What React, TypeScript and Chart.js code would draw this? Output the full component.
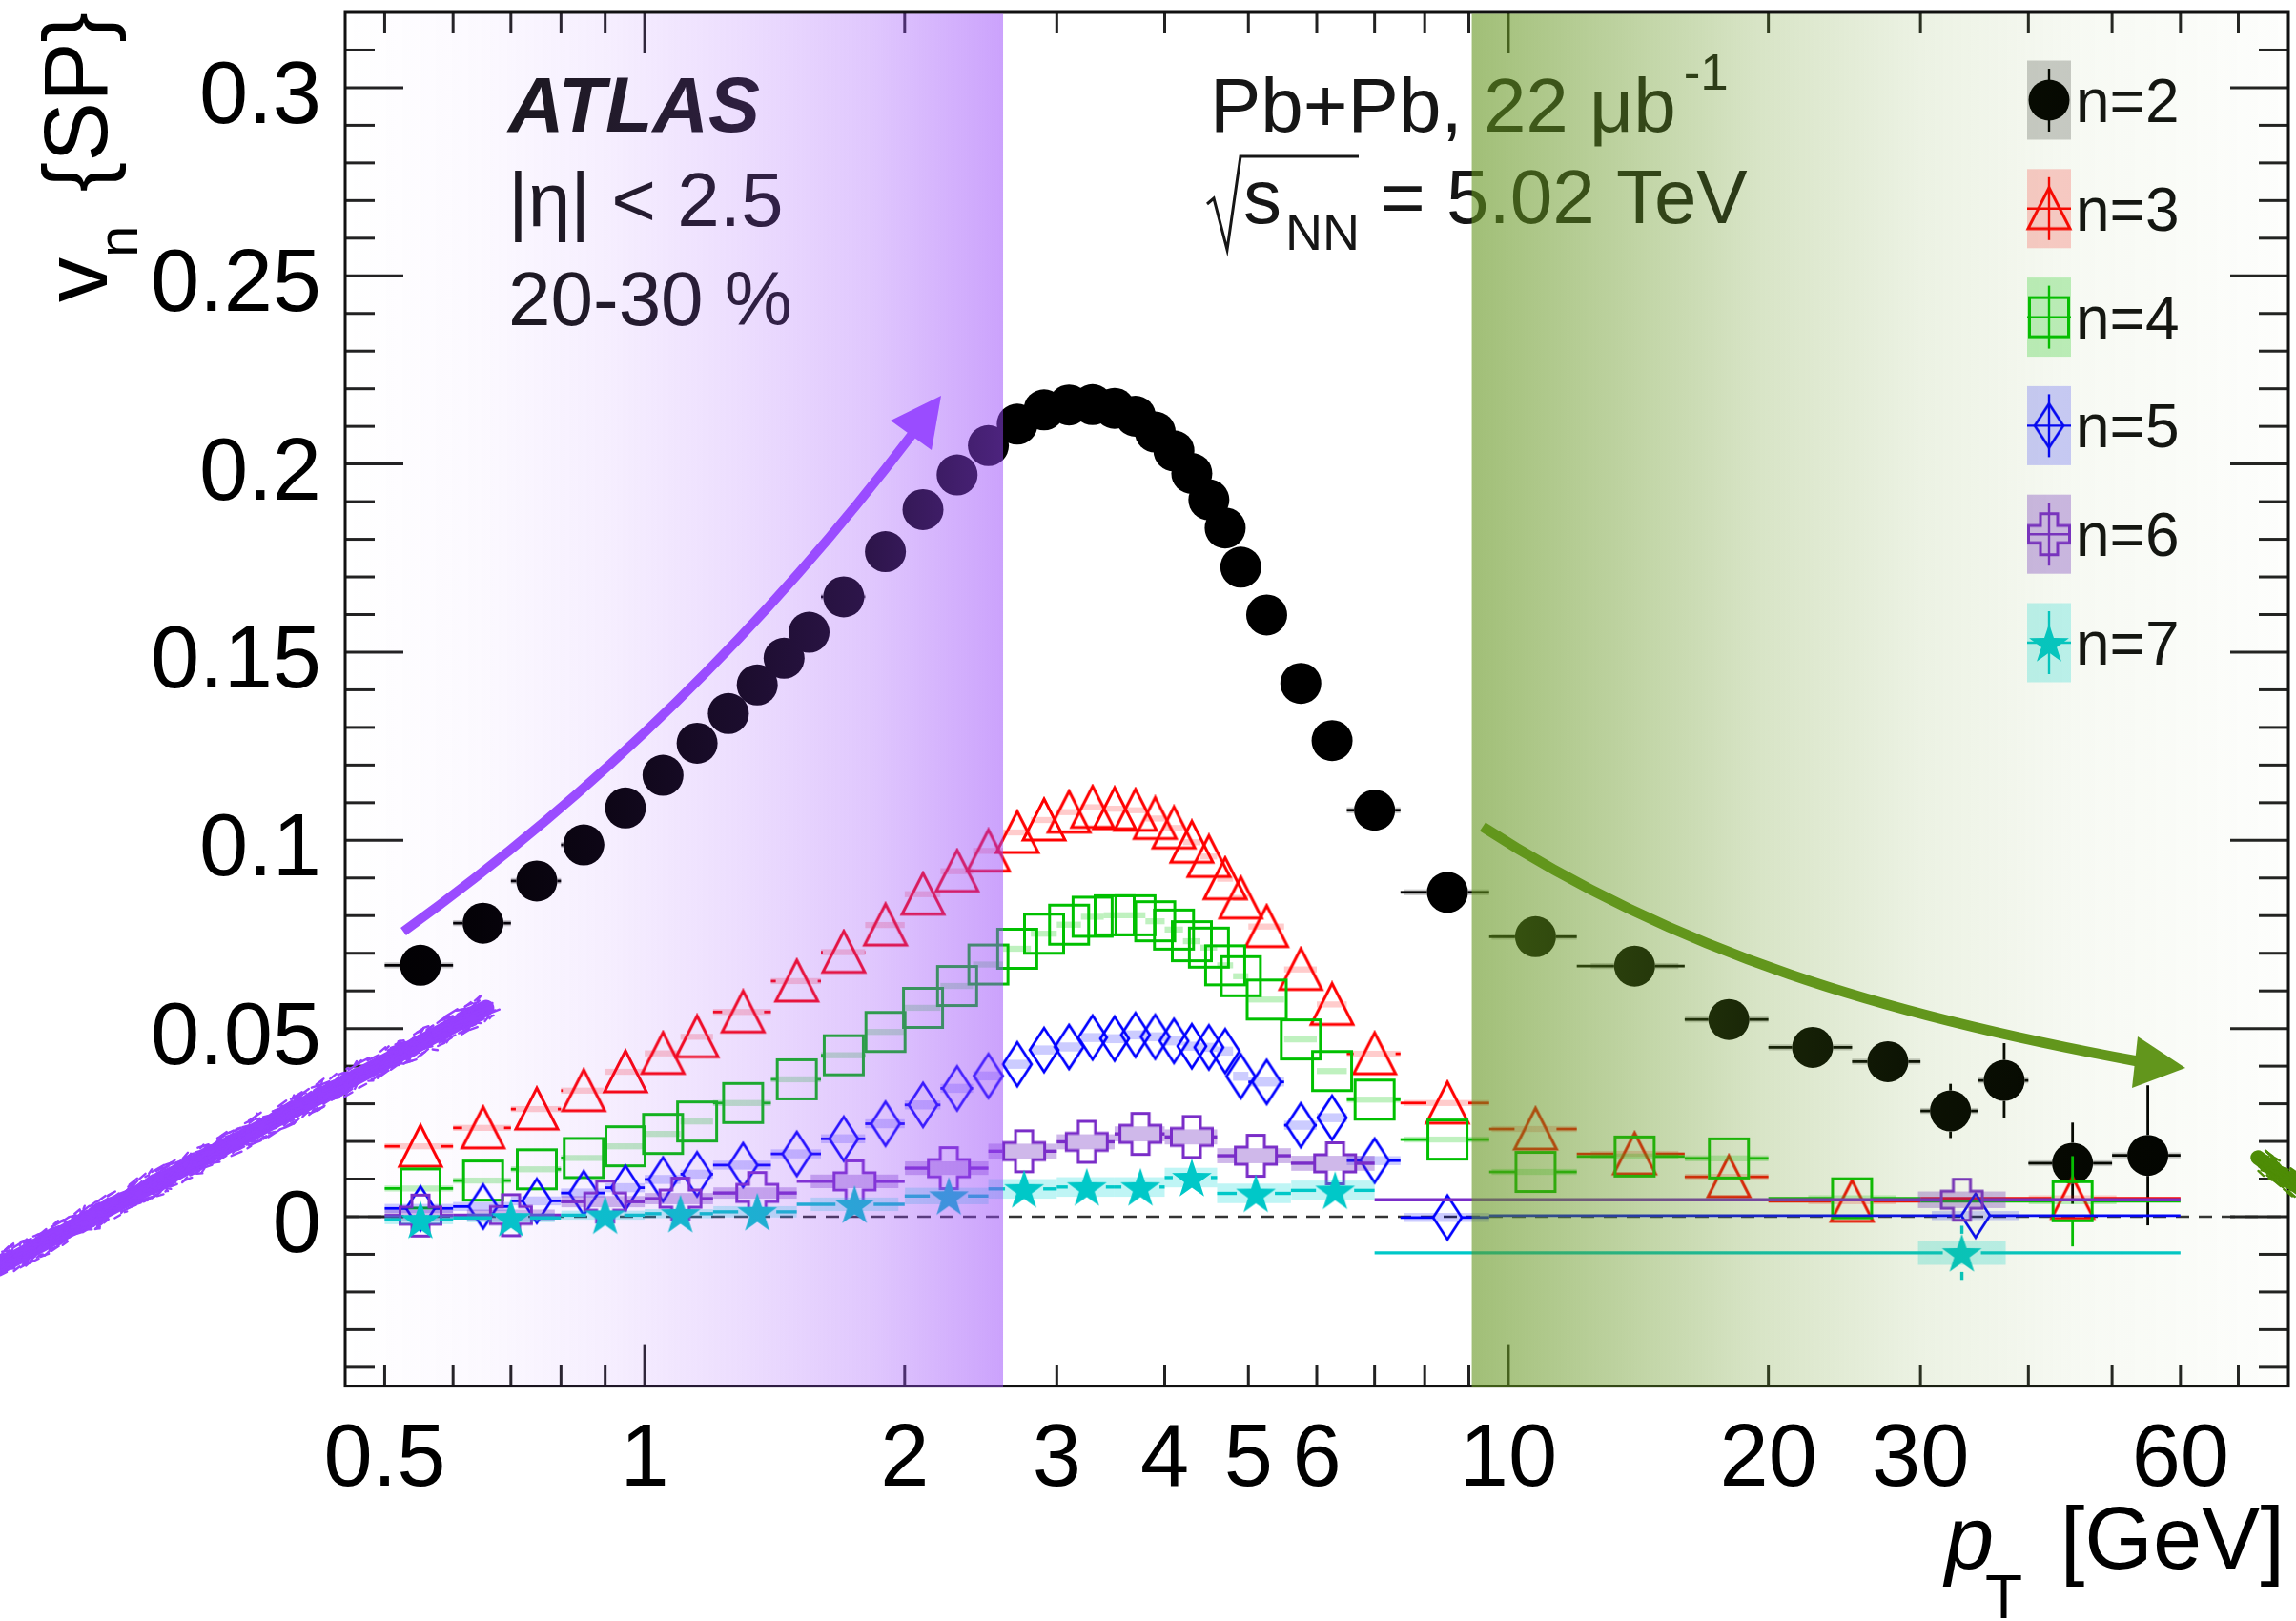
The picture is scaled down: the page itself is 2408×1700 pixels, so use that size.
import { useEffect, useRef } from "react";
import { Chart, registerables } from "chart.js";

Chart.register(...registerables);

const FONT = '"Liberation Sans", Arial, Helvetica, sans-serif';
const W = 2408;
const H = 1700;

// ---------------- pT binning [GeV] ----------------
const edgesN2 = [
  0.5, 0.6, 0.7, 0.8, 0.9, 1.0, 1.1, 1.2, 1.3, 1.4, 1.5, 1.6,
  1.8, 2.0, 2.2, 2.4, 2.6, 2.8, 3.0, 3.2, 3.4, 3.6, 3.8, 4.0, 4.2, 4.4, 4.6, 4.8, 5.0,
  5.5, 6.0, 6.5, 7.5, 9.5, 12, 16, 20, 25, 30, 35, 40, 50, 60,
];
const edgesN34 = [
  0.5, 0.6, 0.7, 0.8, 0.9, 1.0, 1.1, 1.2, 1.4, 1.6,
  1.8, 2.0, 2.2, 2.4, 2.6, 2.8, 3.0, 3.2, 3.4, 3.6, 3.8, 4.0, 4.2, 4.4, 4.6, 4.8, 5.0,
  5.5, 6.0, 6.5, 7.5, 9.5, 12, 16, 20, 30, 60,
];
const edgesN5 = [
  0.5, 0.6, 0.7, 0.8, 0.9, 1.0, 1.1, 1.2, 1.4, 1.6,
  1.8, 2.0, 2.2, 2.4, 2.6, 2.8, 3.0, 3.2, 3.4, 3.6, 3.8, 4.0, 4.2, 4.4, 4.6, 4.8, 5.0,
  5.5, 6.0, 6.5, 7.5, 9.5, 60,
];
const edgesN67 = [0.5, 0.6, 0.8, 1.0, 1.2, 1.5, 2.0, 2.5, 3.0, 3.5, 4.0, 4.6, 5.6, 7.0, 60];

// ---------------- v_n{SP} per bin ----------------
const v2 = [
  0.0668, 0.078, 0.0892, 0.0988, 0.1086, 0.1173, 0.1258, 0.1337, 0.1413, 0.1484, 0.1553,
  0.1647, 0.1767, 0.1879, 0.1971, 0.2049, 0.2106, 0.2144, 0.2157, 0.2158, 0.2148, 0.2127,
  0.2085, 0.2035, 0.1975, 0.1905, 0.183, 0.1726,
  0.1599, 0.1417, 0.1265,
  0.108, 0.0862, 0.0744, 0.0666, 0.0524,
  0.045, 0.0412, 0.0281, 0.0362, 0.0142, 0.0163,
];
const v3 = [
  0.0187, 0.0236, 0.0286, 0.0335, 0.0385, 0.0434, 0.0478,
  0.0544, 0.0626,
  0.0703, 0.0775, 0.0857, 0.0918, 0.0972, 0.1021, 0.1054, 0.1075, 0.1088, 0.1084, 0.108,
  0.1058, 0.1033, 0.0995, 0.0957, 0.0898, 0.0847,
  0.0771, 0.0657, 0.0564,
  0.0433, 0.0302, 0.0233, 0.0167, 0.0106,
  0.0041, 0.0049,
];
const v4 = [
  0.0075, 0.0096, 0.0126, 0.0156, 0.0187, 0.022, 0.0253,
  0.0302, 0.0365,
  0.0429, 0.0491, 0.0555, 0.0613, 0.067, 0.0712, 0.0752, 0.0776, 0.0797, 0.0801, 0.0801,
  0.0785, 0.0763, 0.0732, 0.0715, 0.0668, 0.0639,
  0.0577, 0.0471, 0.0387,
  0.0311, 0.0205, 0.0119, 0.016, 0.0155,
  0.0049, 0.0041,
];
const v5 = [
  0.0022, 0.0027, 0.0042, 0.0063, 0.0077, 0.0099, 0.0113,
  0.0137, 0.0167,
  0.0207, 0.0247, 0.0297, 0.0341, 0.0374, 0.0405, 0.0443, 0.0451, 0.0476, 0.0473, 0.0483,
  0.0478, 0.0467, 0.0453, 0.045, 0.044, 0.0373,
  0.0358, 0.0243, 0.0263,
  0.0149, -0.0002,
  0.0003,
];
const v6 = [0.0003, 0.0004, 0.004, 0.0048, 0.0063, 0.0094, 0.0129, 0.0174, 0.0199, 0.022, 0.0212, 0.0162, 0.0142, 0.0045];
const v7 = [-0.0008, -0.0003, 0.0004, 0.0008, 0.0013, 0.0033, 0.0055, 0.0074, 0.0079, 0.0079, 0.0104, 0.0062, 0.007, -0.0096];

// ---------------- statistical uncertainties ----------------
const v2Stat = [
  0.0002, 0.0002, 0.0002, 0.0002, 0.0002, 0.0002, 0.0002, 0.0002, 0.0002, 0.0002,
  0.0002, 0.0002, 0.0002, 0.0002, 0.0002, 0.0002, 0.0002, 0.0002, 0.0002, 0.0002,
  0.0002, 0.0002, 0.0002, 0.0002, 0.0002, 0.0002, 0.0002, 0.0002,
  0.0003, 0.0004, 0.0005, 0.0006, 0.0008, 0.0012, 0.0016, 0.0025, 0.003, 0.004, 0.0072, 0.0099, 0.0108, 0.0186,
];
const v3Stat = [
  0.0003, 0.0003, 0.0003, 0.0003, 0.0003, 0.0003, 0.0003, 0.0003, 0.0003, 0.0003,
  0.0003, 0.0003, 0.0003, 0.0003, 0.0003, 0.0003, 0.0003, 0.0003, 0.0003, 0.0003,
  0.0003, 0.0003, 0.0003, 0.0003, 0.0003, 0.0003,
  0.0004, 0.0005, 0.0006, 0.0007, 0.001, 0.0015, 0.002, 0.003, 0.004, 0.005,
];
const v4Stat = [
  0.0003, 0.0003, 0.0003, 0.0003, 0.0003, 0.0003, 0.0003, 0.0003, 0.0003, 0.0003,
  0.0003, 0.0003, 0.0003, 0.0003, 0.0003, 0.0003, 0.0003, 0.0003, 0.0003, 0.0003,
  0.0003, 0.0003, 0.0003, 0.0003, 0.0003, 0.0003,
  0.0004, 0.0005, 0.0006, 0.0008, 0.0012, 0.0018, 0.0025, 0.0035, 0.005, 0.012,
];
const v5Stat = [
  0.0004, 0.0004, 0.0004, 0.0004, 0.0004, 0.0004, 0.0004, 0.0004, 0.0004, 0.0004,
  0.0004, 0.0004, 0.0004, 0.0004, 0.0004, 0.0004, 0.0004, 0.0004, 0.0004, 0.0004,
  0.0004, 0.0004, 0.0004, 0.0004, 0.0004, 0.0004,
  0.0005, 0.0006, 0.0008, 0.001, 0.002, 0.004,
];
const v6Stat = [0.0003, 0.0003, 0.0003, 0.0003, 0.0004, 0.0004, 0.0005, 0.0006, 0.0007, 0.0008, 0.0009, 0.001, 0.0012, 0.005];
const v7Stat = [0.0004, 0.0004, 0.0004, 0.0005, 0.0005, 0.0006, 0.0007, 0.0008, 0.0009, 0.001, 0.0012, 0.0014, 0.0016, 0.0072];

// ---------------- systematic uncertainties (box half-heights) ----------------
const v2Sys = [0.0008];
const v3Sys = [0.0008];
const v4Sys = [0.0008];
const v5Sys = [0.0012];
const v6Sys = [0.0015, 0.0015, 0.0015, 0.0015, 0.0015, 0.0018, 0.0018, 0.002, 0.002, 0.002, 0.002, 0.002, 0.002, 0.0022];
const v7Sys = [0.0012, 0.0012, 0.0012, 0.0012, 0.0015, 0.0018, 0.0022, 0.0026, 0.0026, 0.0026, 0.0026, 0.0026, 0.0026, 0.0032];

// ---------------- axes ----------------
const xTicks = [0.5, 0.6, 0.7, 0.8, 0.9, 1, 2, 3, 4, 5, 6, 7, 8, 9, 10, 20, 30, 40, 50, 60, 70];
const xMajorTicks = [1, 10];
const xTickLabels = [0.5, 1, 2, 3, 4, 5, 6, 10, 20, 30, 60];
const yTickLabels = [0, 0.05, 0.1, 0.15, 0.2, 0.25, 0.3];
const legendLabels = ["n=2", "n=3", "n=4", "n=5", "n=6", "n=7"];

// shaded pT regions (soft / hard)
const softBand = [0.45, 2.6];
const hardBand = [9.07, 80];

const centres = (e: number[]) => e.slice(0, -1).map((lo, i) => (lo + e[i + 1]) / 2);
const hash = (k: number) => {
  const s = Math.sin(k * 127.1 + 311.7) * 43758.5453;
  return s - Math.floor(s);
};

function mk(w: number, h: number, draw: (g: CanvasRenderingContext2D) => void) {
  const c = document.createElement("canvas");
  c.width = w;
  c.height = h;
  draw(c.getContext("2d") as CanvasRenderingContext2D);
  return c;
}

function buildMarkers(colors: string[]) {
  const tri = mk(52, 50, (g) => {
    g.strokeStyle = colors[1];
    g.lineWidth = 3;
    g.beginPath();
    g.moveTo(26, 3);
    g.lineTo(48, 46);
    g.lineTo(4, 46);
    g.closePath();
    g.stroke();
  });
  const sq = mk(48, 48, (g) => {
    g.strokeStyle = colors[2];
    g.lineWidth = 3;
    g.strokeRect(3.5, 3.5, 41, 41);
  });
  const dia = mk(36, 52, (g) => {
    g.strokeStyle = colors[3];
    g.lineWidth = 2.7;
    g.beginPath();
    g.moveTo(18, 3);
    g.lineTo(33, 26);
    g.lineTo(18, 49);
    g.lineTo(3, 26);
    g.closePath();
    g.stroke();
  });
  const cross = mk(50, 50, (g) => {
    g.strokeStyle = colors[4];
    g.lineWidth = 3;
    const c = 25, o = 21.5, a = 9;
    const pts = [
      [c - a, c - o], [c + a, c - o], [c + a, c - a], [c + o, c - a], [c + o, c + a], [c + a, c + a],
      [c + a, c + o], [c - a, c + o], [c - a, c + a], [c - o, c + a], [c - o, c - a], [c - a, c - a],
    ];
    g.beginPath();
    pts.forEach(([px, py], i) => (i ? g.lineTo(px, py) : g.moveTo(px, py)));
    g.closePath();
    g.stroke();
  });
  const star = mk(48, 48, (g) => {
    g.fillStyle = colors[5];
    g.beginPath();
    for (let i = 0; i < 10; i++) {
      const r = i % 2 ? 8.5 : 22;
      const an = -Math.PI / 2 + (i * Math.PI) / 5;
      const px = 24 + r * Math.cos(an);
      const py = 26 + r * Math.sin(an);
      if (i) g.lineTo(px, py);
      else g.moveTo(px, py);
    }
    g.closePath();
    g.fill();
  });
  return [null, tri, sq, dia, cross, star] as (HTMLCanvasElement | null)[];
}

type Run = { t: string; size: number; dx?: number; dy?: number; style?: string };
function drawRuns(ctx: CanvasRenderingContext2D, x: number, y: number, runs: Run[]) {
  let cx = x;
  for (const r of runs) {
    ctx.font = `${r.style ?? ""} ${r.size}px ${FONT}`;
    cx += r.dx ?? 0;
    ctx.fillText(r.t, cx, y + (r.dy ?? 0));
    cx += ctx.measureText(r.t).width;
  }
  return cx;
}

function roughStroke(
  ctx: CanvasRenderingContext2D,
  x0: number, y0: number, x1: number, y1: number,
  width: number, color: string, seed: number,
) {
  const len = Math.hypot(x1 - x0, y1 - y0);
  const ux = (x1 - x0) / len, uy = (y1 - y0) / len;
  const nx = -uy, ny = ux;
  ctx.save();
  ctx.strokeStyle = color;
  ctx.lineCap = "round";
  ctx.lineWidth = width * 0.7;
  ctx.beginPath();
  ctx.moveTo(x0, y0);
  ctx.lineTo(x1, y1);
  ctx.stroke();
  ctx.lineWidth = 2.4;
  const n = Math.floor(len * 1.4);
  for (let i = 0; i < n; i++) {
    const t = i / n;
    const off = (hash(seed + i * 3.1) - 0.5) * width * 1.05;
    const l = 3 + hash(seed + i * 7.7) * 9;
    const px = x0 + ux * len * t + nx * off;
    const py = y0 + uy * len * t + ny * off;
    ctx.beginPath();
    ctx.moveTo(px, py);
    ctx.lineTo(px + ux * l + (hash(seed + i * 1.3) - 0.5) * 5, py + uy * l + (hash(seed + i * 5.9) - 0.5) * 5);
    ctx.stroke();
  }
  ctx.restore();
}

export default function App() {
  const ref = useRef<HTMLCanvasElement>(null);

  useEffect(() => {
    const canvas = ref.current as HTMLCanvasElement;
    const colors = ["#000000", "#ff0000", "#00c000", "#0000ff", "#7a2dc8", "#00c8c8"];
    const fills = [
      "rgba(0,0,0,0.2)",
      "rgba(255,0,0,0.2)",
      "rgba(0,200,0,0.25)",
      "rgba(0,0,255,0.2)",
      "rgba(110,40,190,0.33)",
      "rgba(0,215,215,0.25)",
    ];
    const markers = buildMarkers(colors);

    const series = [
      { edges: edgesN2, v: v2, stat: v2Stat, sys: v2Sys, gx: 21.5, gy: 21.5 },
      { edges: edgesN34, v: v3, stat: v3Stat, sys: v3Sys, gx: 22, gy: 22 },
      { edges: edgesN34, v: v4, stat: v4Stat, sys: v4Sys, gx: 21, gy: 21 },
      { edges: edgesN5, v: v5, stat: v5Stat, sys: v5Sys, gx: 15, gy: 23 },
      { edges: edgesN67, v: v6, stat: v6Stat, sys: v6Sys, gx: 21.5, gy: 21.5 },
      { edges: edgesN67, v: v7, stat: v7Stat, sys: v7Sys, gx: 20, gy: 20 },
    ];

    const datasets = series.map((s, i) => {
      const xs = centres(s.edges);
      return {
        type: "scatter" as const,
        label: legendLabels[i],
        data: xs.map((x, k) => ({ x, y: s.v[k] })),
        order: 6 - i,
        showLine: false,
        pointStyle: i === 0 ? "circle" : (markers[i] as any),
        pointRadius: i === 0 ? 21.5 : 22,
        pointBackgroundColor: colors[i],
        pointBorderColor: colors[i],
        pointBorderWidth: 0,
        clip: false as any,
      };
    });

    const line = (ctx: CanvasRenderingContext2D, x0: number, y0: number, x1: number, y1: number) => {
      ctx.beginPath();
      ctx.moveTo(x0, y0);
      ctx.lineTo(x1, y1);
      ctx.stroke();
    };

    const decor = {
      id: "vnDecor",
      beforeDatasetsDraw(chart: any) {
        const { ctx, chartArea: a, scales } = chart;
        const x = scales.x, y = scales.y;
        ctx.save();
        // dashed zero line
        ctx.strokeStyle = "#333";
        ctx.lineWidth = 2.5;
        ctx.setLineDash([14, 10]);
        const y0 = y.getPixelForValue(0);
        line(ctx, a.left, y0, a.right, y0);
        ctx.setLineDash([]);
        // ticks on all four sides, pointing inwards
        ctx.strokeStyle = "#222";
        ctx.lineWidth = 3;
        for (const t of xTicks) {
          const px = x.getPixelForValue(t);
          const len = xMajorTicks.includes(t) ? 43 : 22;
          line(ctx, px, a.bottom, px, a.bottom - len);
          line(ctx, px, a.top, px, a.top + len);
        }
        for (let k = -4; k <= 31; k++) {
          const py = y.getPixelForValue(k / 100);
          const len = k % 5 === 0 ? 61 : 31;
          line(ctx, a.left, py, a.left + len, py);
          line(ctx, a.right, py, a.right - len, py);
        }
        ctx.strokeStyle = "#111";
        ctx.lineWidth = 3;
        ctx.strokeRect(a.left, a.top, a.right - a.left, a.bottom - a.top);
        ctx.restore();
      },
      beforeDatasetDraw(chart: any, args: any) {
        const i = args.index;
        const s = series[i];
        const { ctx, scales } = chart;
        const x = scales.x, y = scales.y;
        ctx.save();
        const xs = centres(s.edges);
        // systematic boxes
        ctx.fillStyle = fills[i];
        xs.forEach((cx, k) => {
          const sys = s.sys.length > 1 ? s.sys[k] : s.sys[0];
          const pcx = x.getPixelForValue(cx);
          const l = Math.max(x.getPixelForValue(s.edges[k]), pcx - 46);
          const r = Math.min(x.getPixelForValue(s.edges[k + 1]), pcx + 46);
          const t = y.getPixelForValue(s.v[k] + sys);
          const b = y.getPixelForValue(s.v[k] - sys);
          ctx.fillRect(l, t, r - l, b - t);
        });
        // bin-width and statistical error bars, interrupted by the marker
        ctx.strokeStyle = colors[i];
        ctx.lineWidth = i >= 4 ? 3.4 : 2.8;
        xs.forEach((cx, k) => {
          const pcx = x.getPixelForValue(cx);
          const pcy = y.getPixelForValue(s.v[k]);
          const l = x.getPixelForValue(s.edges[k]);
          const r = x.getPixelForValue(s.edges[k + 1]);
          if (pcx - s.gx > l) line(ctx, l, pcy, pcx - s.gx, pcy);
          if (pcx + s.gx < r) line(ctx, pcx + s.gx, pcy, r, pcy);
          const t = y.getPixelForValue(s.v[k] + s.stat[k]);
          const b = y.getPixelForValue(s.v[k] - s.stat[k]);
          if (pcy - s.gy > t) line(ctx, pcx, t, pcx, pcy - s.gy);
          if (pcy + s.gy < b) line(ctx, pcx, pcy + s.gy, pcx, b);
        });
        ctx.restore();
      },
      afterDatasetsDraw(chart: any) {
        const { ctx, chartArea: a, scales } = chart;
        const x = scales.x, y = scales.y;
        ctx.save();
        ctx.fillStyle = "#000";
        ctx.textBaseline = "alphabetic";

        // tick labels
        ctx.font = `92px ${FONT}`;
        ctx.textAlign = "right";
        for (const v of yTickLabels) ctx.fillText(String(v), a.left - 25, y.getPixelForValue(v) + 37);
        ctx.textAlign = "center";
        for (const v of xTickLabels) ctx.fillText(String(v), x.getPixelForValue(v), a.bottom + 104);

        // axis titles
        ctx.textAlign = "left";
        ctx.save();
        ctx.translate(112, 317);
        ctx.rotate(-Math.PI / 2);
        drawRuns(ctx, 0, 0, [{ t: "v", size: 94 }, { t: "n", size: 60, dy: 32 }]);
        ctx.font = `94px ${FONT}`;
        ctx.textAlign = "right";
        ctx.fillText("{SP}", 304, 0);
        ctx.restore();

        ctx.textAlign = "left";
        drawRuns(ctx, 2040, 1645, [{ t: "p", size: 92, style: "italic" }]);
        drawRuns(ctx, 2082, 1697, [{ t: "T", size: 64 }]);
        ctx.font = `92px ${FONT}`;
        ctx.textAlign = "right";
        ctx.fillText("[GeV]", 2396, 1645);
        ctx.textAlign = "left";

        // labels inside the frame
        ctx.fillStyle = "#161616";
        ctx.font = `italic bold 81px ${FONT}`;
        ctx.fillText("ATLAS", 533, 138);
        ctx.font = `80px ${FONT}`;
        ctx.fillText("|\u03b7| < 2.5", 533, 237);
        ctx.fillText("20-30 %", 533, 341);

        drawRuns(ctx, 1269, 138, [
          { t: "Pb+Pb, 22 \u03bcb", size: 80 },
          { t: "-1", size: 53, dx: 8, dy: -44 },
        ]);
        ctx.strokeStyle = "#161616";
        ctx.lineWidth = 3;
        ctx.lineJoin = "miter";
        ctx.beginPath();
        ctx.moveTo(1266, 214);
        ctx.lineTo(1273, 208);
        ctx.lineTo(1287, 262);
        ctx.lineTo(1301, 164);
        ctx.lineTo(1425, 164);
        ctx.stroke();
        const sEnd = drawRuns(ctx, 1304, 234, [{ t: "s", size: 80 }]);
        drawRuns(ctx, sEnd + 4, 262, [{ t: "NN", size: 54 }]);
        drawRuns(ctx, 1448, 234, [{ t: "= 5.02 TeV", size: 80 }]);

        // legend
        series.forEach((_, i) => {
          const ry = 105 + i * 113.8;
          ctx.fillStyle = fills[i];
          ctx.fillRect(2126, ry - 41.5, 46, 83);
          ctx.strokeStyle = colors[i];
          ctx.lineWidth = 2.4;
          line(ctx, 2149, ry - 33, 2149, ry + 33);
          if (i > 0) line(ctx, 2126, ry, 2172, ry);
          const m = markers[i];
          if (m) {
            ctx.drawImage(m, 2149 - m.width / 2, ry - m.height / 2);
          } else {
            ctx.fillStyle = colors[0];
            ctx.beginPath();
            ctx.arc(2149, ry, 21.5, 0, Math.PI * 2);
            ctx.fill();
          }
          ctx.fillStyle = "#111";
          ctx.font = `64px ${FONT}`;
          ctx.fillText(legendLabels[i], 2177, ry + 23);
        });

        // shaded pT regions laid over everything inside the frame
        const top = a.top + 1.5;
        const bot = a.bottom + 1.5;
        const sl = x.getPixelForValue(softBand[0]);
        const sr = x.getPixelForValue(softBand[1]);
        const gs = ctx.createLinearGradient(sl, 0, sr, 0);
        const sAlpha = [[0, 0], [0.2, 0.03], [0.4, 0.09], [0.6, 0.18], [0.8, 0.3], [0.97, 0.47], [1, 0.5]];
        sAlpha.forEach(([p, al]) => gs.addColorStop(p, `rgba(152,70,250,${al})`));
        ctx.fillStyle = gs;
        ctx.fillRect(sl, top, sr - sl, bot - top);

        const hl = x.getPixelForValue(hardBand[0]);
        const hr = x.getPixelForValue(hardBand[1]);
        const gh = ctx.createLinearGradient(hl, 0, hr, 0);
        const hAlpha = [[0, 0.6], [0.15, 0.45], [0.35, 0.25], [0.55, 0.12], [0.75, 0.05], [1, 0.01]];
        hAlpha.forEach(([p, al]) => gh.addColorStop(p, `rgba(98,148,28,${al})`));
        ctx.fillStyle = gh;
        ctx.fillRect(hl, top, hr - hl, bot - top);

        // arrows
        ctx.lineCap = "butt";
        ctx.strokeStyle = "#9a4cff";
        ctx.fillStyle = "#9a4cff";
        ctx.lineWidth = 10;
        ctx.beginPath();
        ctx.moveTo(423, 977);
        ctx.quadraticCurveTo(727, 758, 957, 455);
        ctx.stroke();
        ctx.beginPath();
        ctx.moveTo(987, 415);
        ctx.lineTo(934, 441);
        ctx.lineTo(977, 472);
        ctx.closePath();
        ctx.fill();

        ctx.strokeStyle = "#62961c";
        ctx.fillStyle = "#62961c";
        ctx.lineWidth = 11;
        ctx.beginPath();
        ctx.moveTo(1555, 867);
        ctx.bezierCurveTo(1760, 1000, 1980, 1065, 2242, 1113);
        ctx.stroke();
        ctx.beginPath();
        ctx.moveTo(2292, 1120);
        ctx.lineTo(2242, 1087);
        ctx.lineTo(2236, 1141);
        ctx.closePath();
        ctx.fill();

        // brush strokes
        roughStroke(ctx, -4, 1330, 510, 1057, 24, "#9640ff", 1.7);
        roughStroke(ctx, 2368, 1214, 2412, 1246, 22, "#4e8c06", 9.3);
        ctx.restore();
      },
    };

    const chart = new Chart(canvas, {
      type: "scatter",
      data: { datasets: datasets as any },
      options: {
        responsive: false,
        devicePixelRatio: 1,
        animation: false,
        events: [],
        layout: { autoPadding: false, padding: { top: 13, right: 8, left: 0, bottom: 0 } },
        plugins: { legend: { display: false }, tooltip: { enabled: false }, title: { display: false } },
        scales: {
          x: {
            type: "logarithmic",
            min: 0.45,
            max: 80,
            grid: { display: false },
            border: { display: false },
            ticks: { display: false },
            afterFit: (s: any) => {
              s.height = H - 1453.6;
            },
          },
          y: {
            type: "linear",
            min: -0.045,
            max: 0.32,
            grid: { display: false },
            border: { display: false },
            ticks: { display: false },
            afterFit: (s: any) => {
              s.width = 362;
            },
          },
        },
      } as any,
      plugins: [decor],
    });
    return () => chart.destroy();
  }, []);

  return (
    <div style={{ position: "fixed", left: 0, top: 0, width: W, height: H, background: "#fff" }}>
      <canvas ref={ref} width={W} height={H} style={{ display: "block", width: W, height: H }} />
    </div>
  );
}
